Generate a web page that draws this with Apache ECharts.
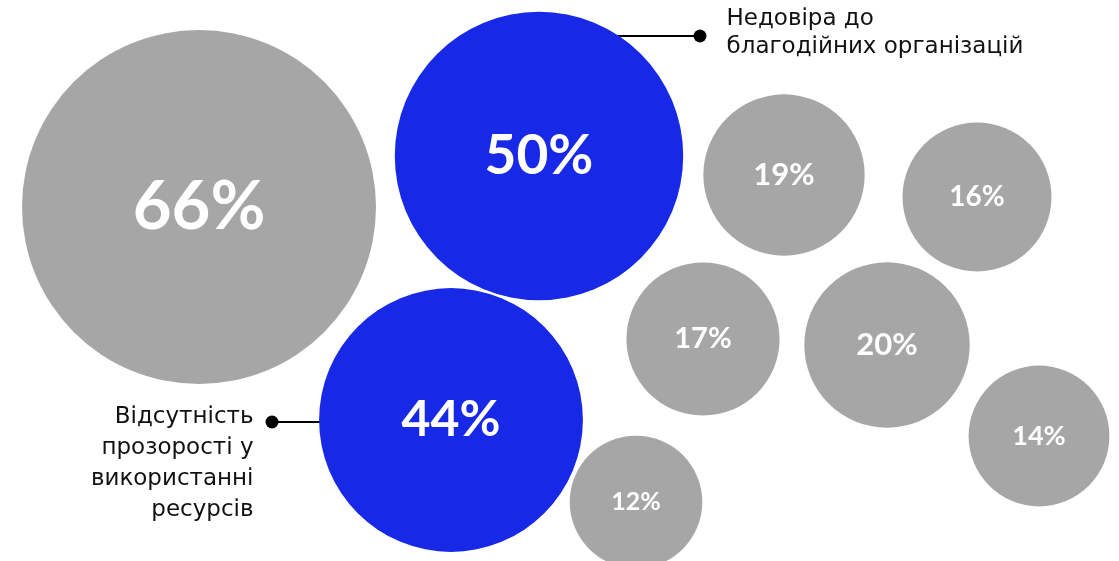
<!DOCTYPE html>
<html>
<head>
<meta charset="utf-8">
<script src="https://cdn.jsdelivr.net/npm/echarts@6/dist/echarts.min.js"></script>
<style>
  html, body { margin: 0; padding: 0; background: #fff; }
  #chart { width: 1119px; height: 561px; }
</style>
</head>
<body>
<div id="chart"></div>
<script>
// bubble values (%) and their places on the canvas
const values = [66, 50, 44, 19, 16, 17, 20, 14, 12]
const posX = [199, 539, 451, 784, 977, 703, 887, 1039, 636]
const posY = [207, 156, 420, 175, 197, 339, 345, 436, 502]
const highlighted = [false, true, true, false, false, false, false, false, false]

// callouts for the two blue bubbles
const calloutText = ['Недовіра до\nблагодійних організацій', 'Відсутність\nпрозорості у\nвикористанні\nресурсів']
const calloutLine = [
  [[590, 36], [700, 36]],
  [[340, 422], [272, 422]]
]

const GREY = '#a6a6a6'
const BLUE = '#1729e6'

// diameter grows with the value
const diameter = (v) => 83.4 + 4.1 * v

const chart = echarts.init(document.getElementById('chart'))

const bubbles = values.map((v, i) => ({
  value: [posX[i], posY[i], v],
  itemStyle: { color: highlighted[i] ? BLUE : GREY },
  label: { fontSize: Math.round(diameter(v) * 0.19) }
}))

const callouts = calloutLine.map((pts, i) => ({
  type: 'line',
  z: 1,
  silent: true,
  lineStyle: { color: '#000', width: 2 },
  symbol: 'circle',
  itemStyle: { color: '#000' },
  data: [
    { value: pts[0], symbolSize: 0 },
    {
      value: pts[1],
      symbolSize: 13,
      label: {
        show: true,
        position: i === 0 ? 'right' : 'left',
        distance: i === 0 ? 20 : 12,
        align: i === 0 ? 'left' : 'right',
        verticalAlign: 'top',
        offset: i === 0 ? [0, -31] : [0, -20],
        formatter: calloutText[i],
        color: '#111',
        fontFamily: 'DejaVu Sans',
        fontSize: 23,
        lineHeight: i === 0 ? 28 : 31
      }
    }
  ]
}))

chart.setOption({
  animation: false,
  grid: { left: 0, right: 0, top: 0, bottom: 0 },
  xAxis: { type: 'value', min: 0, max: 1119, show: false },
  yAxis: { type: 'value', min: 0, max: 561, inverse: true, show: false },
  series: [
    {
      type: 'scatter',
      z: 2,
      data: bubbles,
      symbolSize: (d) => diameter(d[2]),
      itemStyle: { opacity: 1 },
      label: {
        show: true,
        position: 'inside',
        formatter: (p) => p.value[2] + '%',
        color: '#fff',
        fontFamily: 'Lato',
        fontWeight: 'bold'
      }
    },
    ...callouts
  ]
})
</script>
</body>
</html>
